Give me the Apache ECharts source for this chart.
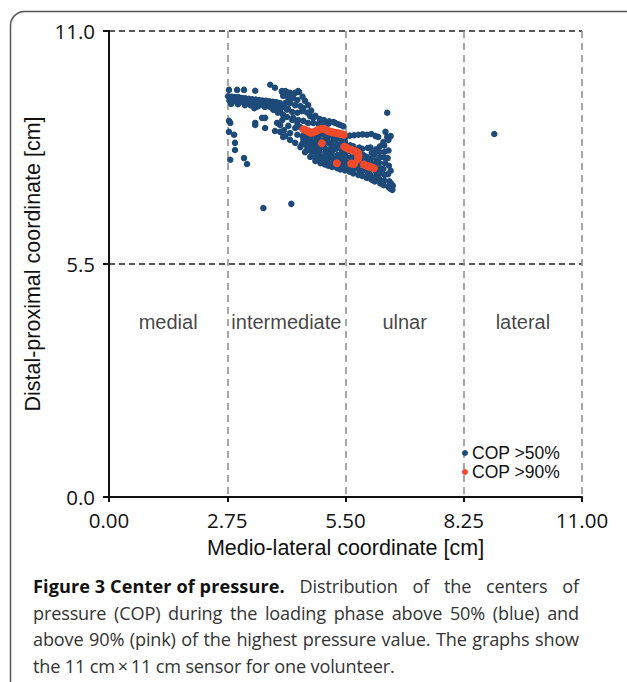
<!DOCTYPE html>
<html>
<head>
<meta charset="utf-8">
<script src="https://cdn.jsdelivr.net/npm/echarts@6/dist/echarts.min.js"></script>
<style>
html,body{margin:0;padding:0;background:#fff;}
#wrap{position:relative;width:627px;height:682px;overflow:hidden;}
#chart{position:absolute;left:0;top:0;width:627px;height:682px;}
#caption{position:absolute;left:33px;top:573px;width:546px;font-family:'Open Sans',sans-serif;font-size:18.1px;letter-spacing:-0.15px;line-height:26.6px;color:#333;}
#caption div{white-space:nowrap;height:26.6px;overflow:visible;}
#caption div.j{text-align:justify;text-align-last:justify;white-space:normal;}
#caption b{display:inline-block;font-size:18.1px;letter-spacing:0.1px;color:#111;}
</style>
</head>
<body>
<div id="wrap">
<div id="chart"></div>
<div id="caption"></div>
</div>
<script>
// ---------- data ----------
var xTicks = [0, 2.75, 5.5, 8.25, 11];
var yTicks = [0, 5.5, 11];
var regionNames = ["medial", "intermediate", "ulnar", "lateral"];
var regionX = [1.375, 4.125, 6.875, 9.625];
var regionY = [4.12, 4.12, 4.12, 4.12];
var seriesNames = ["COP >50%", "COP >90%"];

// COP > 50% (blue) : [medio-lateral, distal-proximal]
var cop50 = [
 // isolated
 [3.59,6.82],[4.24,6.92],[6.47,9.07],[8.96,8.57],
 // top row
 [2.79,9.61],[2.98,9.61],[3.14,9.61],[3.40,9.59],[3.75,9.73],[3.86,9.66],[4.03,9.56],[4.17,9.54],[4.42,9.56],
 // upper-left band
 [2.77,9.46],[2.85,9.45],[2.93,9.44],[3.01,9.44],[3.09,9.42],[3.17,9.41],[3.25,9.40],[3.33,9.39],[3.41,9.38],[3.49,9.37],[3.57,9.36],[3.65,9.35],[3.73,9.34],[3.81,9.33],[3.89,9.32],[3.97,9.30],
 [2.80,9.36],[2.88,9.34],[2.96,9.35],[3.04,9.32],[3.12,9.33],[3.20,9.30],[3.28,9.31],[3.36,9.28],[3.44,9.29],[3.52,9.26],[3.60,9.27],[3.68,9.24],[3.76,9.25],[3.84,9.22],[3.92,9.22],[4.00,9.20],[4.08,9.20],[4.16,9.17],
 [2.84,9.28],[3.00,9.27],[3.16,9.25],[3.30,9.24],[3.46,9.22],[3.62,9.21],[3.38,9.18],[3.63,9.23],[3.84,9.14],[3.98,9.11],
 // left scattered
 [2.79,8.88],[2.82,8.83],[2.79,8.62],[2.91,8.55],[2.93,8.36],[2.93,8.19],[2.82,7.96],[3.14,8.00],[3.21,7.86],
 [3.40,8.83],[3.56,8.95],[3.63,8.95],[3.91,8.83],[4.03,8.90],[3.40,8.78],[3.63,8.71],[3.86,8.64],[3.98,8.62],
 // middle streak
 [3.75,9.21],[3.82,9.14],[3.93,9.07],[4.05,9.02],[4.14,8.97],[4.26,8.90],[4.38,8.83],[4.45,8.73],
 // diagonal region
 [4.02,9.58],[4.10,9.58],[4.21,9.54],[4.33,9.54],[4.40,9.58],
 [4.05,9.47],[4.17,9.42],[4.28,9.42],[4.38,9.37],[4.50,9.45],[4.56,9.35],
 [4.10,9.30],[4.21,9.30],[4.33,9.25],[4.45,9.23],[4.52,9.18],[4.63,9.25],[4.70,9.12],
 [4.14,9.14],[4.26,9.09],[4.38,9.07],[4.49,9.11],[4.61,9.07],[4.68,8.99],[4.75,8.95],[4.80,9.00],
 [4.28,8.95],[4.40,8.90],[4.52,8.88],[4.63,8.83],[4.75,8.83],[4.87,8.81],[4.90,8.92],[4.98,8.83],[5.00,8.90],[5.10,8.81],[5.12,8.87],[5.22,8.85],[5.26,8.83],[5.33,8.80],[5.38,8.78],[5.45,8.75],
 // lower-left streak
 [3.98,8.78],[4.07,8.66],[4.17,8.76],[4.05,8.50],[4.21,8.59],[4.33,8.71],[4.38,8.55],
 [4.10,8.52],[4.21,8.43],[4.33,8.36],[4.45,8.26],[4.56,8.14],[4.68,8.03],[4.80,7.93],
 // main blob
 [4.50,8.52],[4.52,8.43],[4.49,8.33],
 [4.60,8.57],[4.62,8.47],[4.58,8.38],[4.61,8.27],[4.60,8.18],
 [4.70,8.55],[4.68,8.46],[4.71,8.35],[4.69,8.26],[4.72,8.15],
 [4.80,8.58],[4.82,8.48],[4.79,8.39],[4.81,8.28],[4.78,8.18],[4.82,8.07],[4.80,7.99],
 [4.90,8.57],[4.88,8.46],[4.91,8.36],[4.92,8.25],[4.89,8.16],[4.91,8.05],[4.88,7.95],[4.92,7.88],
 [5.00,8.55],[5.02,8.44],[4.99,8.33],[5.01,8.24],[5.03,8.13],[4.98,8.03],[5.01,7.93],[5.02,7.85],
 [5.10,8.56],[5.08,8.46],[5.11,8.36],[5.12,8.21],[5.09,8.12],[5.11,8.01],[5.08,7.91],[5.10,7.82],
 [5.20,8.53],[5.22,8.43],[5.19,8.30],[5.21,8.19],[5.18,8.09],[5.22,7.98],[5.20,7.88],[5.19,7.79],
 [5.30,8.54],[5.29,8.45],[5.31,8.32],[5.28,8.22],[5.32,8.08],[5.30,7.97],[5.28,7.86],[5.31,7.76],
 [5.40,8.52],[5.41,8.41],[5.38,8.29],[5.42,8.18],[5.39,8.06],[5.41,7.95],[5.40,7.83],[5.38,7.73],
 [5.50,8.50],[5.49,8.39],[5.52,8.28],[5.48,8.15],[5.51,8.04],[5.50,7.92],[5.52,7.81],[5.49,7.71],
 [5.60,8.53],[5.61,8.30],[5.58,8.17],[5.62,8.02],[5.59,7.90],[5.61,7.79],[5.60,7.68],
 [5.70,8.54],[5.68,8.28],[5.71,8.14],[5.69,8.00],[5.72,7.88],[5.70,7.76],[5.68,7.64],
 [5.80,8.55],[5.82,8.25],[5.78,8.05],[5.81,7.93],[5.79,7.82],[5.82,7.70],[5.80,7.60],
 [5.90,8.56],[5.89,8.22],[5.91,8.08],[5.88,7.96],[5.92,7.84],[5.90,7.71],[5.89,7.58],
 [6.00,8.55],[6.02,8.24],[5.99,8.03],[6.01,7.90],[5.98,7.77],[6.02,7.64],[6.00,7.53],
 [6.10,8.57],[6.08,8.25],[6.11,8.12],[6.09,7.99],[6.12,7.86],[6.10,7.73],[6.08,7.60],[6.11,7.49],
 [6.20,8.52],[6.21,8.21],[6.18,8.08],[6.22,7.95],[6.19,7.81],[6.21,7.68],[6.20,7.56],[6.18,7.45],
 [6.30,8.28],[6.29,8.15],[6.31,8.02],[6.28,7.89],[6.32,7.76],[6.30,7.63],[6.29,7.50],[6.31,7.40],
 [6.40,8.30],[6.41,8.15],[6.39,8.02],[6.42,7.88],[6.38,7.74],[6.41,7.60],[6.40,7.47],[6.39,7.36],
 [6.50,8.18],[6.48,8.00],[6.51,7.82],[6.49,7.62],[6.52,7.45],[6.50,7.32],
 [6.55,7.70],[6.56,7.40],[6.54,7.28],[6.60,7.35],[6.59,7.25],
 // right knot
 [6.26,8.50],[6.43,8.62],[6.47,8.50],[6.50,8.43],[6.38,8.38],[6.55,8.52]
];

// COP > 90% (red)
var cop90 = [
 [4.52,8.68],[4.57,8.66],[4.62,8.64],[4.66,8.61],[4.70,8.60],[4.75,8.61],[4.80,8.63],[4.85,8.66],[4.90,8.68],[4.95,8.69],[5.00,8.69],
 [5.05,8.66],[5.10,8.64],[5.15,8.62],[5.20,8.61],[5.25,8.60],[5.30,8.59],[5.35,8.58],[5.40,8.57],[5.46,8.55],
 [4.95,8.35],
 [5.47,8.27],[5.53,8.24],[5.59,8.21],[5.65,8.19],[5.72,8.16],[5.78,8.13],[5.80,8.07],[5.80,8.02],[5.79,7.97],
 [5.30,7.88],[5.63,7.87],[5.70,7.86],
 [5.93,7.85],[5.99,7.82],[6.05,7.80],[6.11,7.78],[6.16,7.76]
];

var captionBold = "Figure 3 Center of pressure.";
var captionLines = [
 "Distribution of the centers of",
 "pressure (COP) during the loading phase above 50% (blue) and",
 "above 90% (pink) of the highest pressure value. The graphs show",
 "the 11\u00a0cm\u2009\u00d7\u200911\u00a0cm sensor for one volunteer."
];

// ---------- caption (HTML text) ----------
var cap = document.getElementById('caption');
captionLines.forEach(function (t, i) {
  var d = document.createElement('div');
  if (i < captionLines.length - 1) d.className = 'j';
  if (i === 0) {
    var b = document.createElement('b');
    b.textContent = captionBold;
    d.appendChild(b);
    d.appendChild(document.createTextNode(' ' + t));
  } else {
    d.textContent = t;
  }
  cap.appendChild(d);
});

// ---------- chart ----------
var BLUE = '#1d4a78';
var RED = '#ef4a2c';
var chart = echarts.init(document.getElementById('chart'), null, {renderer: 'svg'});

var regionData = regionNames.map(function (n, i) { return {name: n, value: [regionX[i], regionY[i]]}; });

var option = {
  animation: false,
  backgroundColor: 'transparent',
  grid: {left: 109, right: 45, top: 31, bottom: 185, containLabel: false},
  xAxis: {
    type: 'value', min: xTicks[0], max: xTicks[xTicks.length - 1], interval: 2.75,
    name: 'Medio-lateral coordinate [cm]', nameLocation: 'middle', nameGap: 40,
    nameTextStyle: {fontFamily: 'Liberation Sans', fontSize: 21.5, color: '#111'},
    axisLine: {show: true, onZero: false, lineStyle: {color: '#111', width: 2}},
    axisTick: {show: true, length: 5, lineStyle: {color: '#111', width: 2}},
    axisLabel: {fontFamily: 'Open Sans', fontSize: 20.5, color: '#111', margin: 12,
      formatter: function (v) { return v.toFixed(2); }},
    splitLine: {show: true, lineStyle: {color: '#8c8c8c', type: [7, 5], width: 1.5}}
  },
  yAxis: [{
    type: 'value', min: yTicks[0], max: yTicks[yTicks.length - 1], interval: 5.5,
    name: 'Distal-proximal coordinate [cm]', nameLocation: 'middle', nameGap: 45,
    nameTextStyle: {fontFamily: 'Liberation Sans', fontSize: 21.5, color: '#111'},
    axisLine: {show: true, onZero: false, lineStyle: {color: '#111', width: 2}},
    axisTick: {show: true, length: 6, lineStyle: {color: '#111', width: 2}},
    axisLabel: {fontFamily: 'Open Sans', fontSize: 20.5, color: '#111', margin: 14,
      formatter: function (v) { return v.toFixed(1); }},
    splitLine: {show: true, lineStyle: {color: '#222', type: [6, 4], width: 1.5}}
  }, {
    type: 'value', min: 0, max: 11, interval: 5.5, position: 'right',
    axisLine: {show: true, lineStyle: {color: '#111', width: 2}},
    axisTick: {show: false}, axisLabel: {show: false}, splitLine: {show: false}
  }],
  legend: {
    data: seriesNames, orient: 'vertical', left: 457, top: 439,
    itemWidth: 6, itemHeight: 6, itemGap: 1, icon: 'circle',
    textStyle: {fontFamily: 'Liberation Sans', fontSize: 17.5, color: '#111', padding: [0, 0, 0, -1]}
  },
  series: [
    {
      name: seriesNames[0], type: 'scatter', data: cop50, symbolSize: 6.5,
      itemStyle: {color: BLUE, opacity: 1}, z: 3
    },
    {
      name: seriesNames[1], type: 'scatter', data: cop90, symbolSize: 8,
      itemStyle: {color: RED, opacity: 1}, z: 4
    },
    {
      name: 'regions', type: 'scatter', data: regionData, symbolSize: 0, silent: true,
      label: {show: true, position: 'inside', formatter: '{b}',
        fontFamily: 'Liberation Sans', fontSize: 20, color: '#111'}
    }
  ],
  graphic: [
    {type: 'rect', left: 8, top: 9, z: -10, silent: true,
     shape: {width: 650, height: 720, r: 14},
     style: {fill: 'none', stroke: '#555', lineWidth: 1.5}}
  ]
};
chart.setOption(option);
</script>
</body>
</html>
